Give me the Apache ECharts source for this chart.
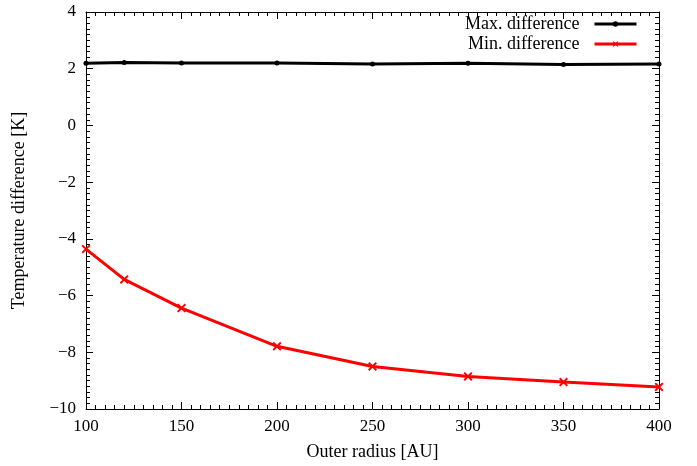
<!DOCTYPE html>
<html>
<head>
<meta charset="utf-8">
<script src="https://cdn.jsdelivr.net/npm/echarts@6/dist/echarts.min.js"></script>
<style>html,body{margin:0;padding:0;background:#fff}#c{width:697px;height:466px}</style>
</head>
<body>
<div id="c"></div>
<script>
var radii = [100, 120, 150, 200, 250, 300, 350, 400];
var maxDiff = [2.19, 2.22, 2.2, 2.2, 2.17, 2.19, 2.15, 2.17];
var minDiff = [-4.36, -5.43, -6.44, -7.79, -8.5, -8.85, -9.05, -9.22];
var seriesNames = ['Max. difference', 'Min. difference'];
var xName = 'Outer radius [AU]';
var yName = 'Temperature difference [K]';

var font = 'Liberation Serif';
var chart = echarts.init(document.getElementById('c'));
var axisLine = {show: true, onZero: false, lineStyle: {color: '#000', width: 1}};
var tick = {show: true, inside: true, length: 7, lineStyle: {color: '#000'}};
var crossPath = 'path://M0,1.5L1.5,0L5,3.5L8.5,0L10,1.5L6.5,5L10,8.5L8.5,10L5,6.5L1.5,10L0,8.5L3.5,5Z';
function minus(v){ return String(v).replace('-', '\u2212'); }
function minorTick(){ return {show: true, splitNumber: 10, length: 4, lineStyle: {color: '#000'}}; }
chart.setOption({
  animation: false,
  grid: {left: 86, right: 38, top: 12, bottom: 56},
  legend: {
    orient: 'vertical', right: 54, top: 10, align: 'right',
    itemWidth: 42, itemHeight: 7, itemGap: 2,
    lineStyle: {width: 3},
    textStyle: {fontFamily: font, fontSize: 18, color: '#000', padding: [0, 10, 0, 0]},
    data: seriesNames
  },
  xAxis: [{
    type: 'value', min: 100, max: 400, interval: 50,
    name: xName, nameLocation: 'middle', nameGap: 34,
    nameTextStyle: {fontFamily: font, fontSize: 18, color: '#000'},
    axisLine: axisLine, axisTick: tick, minorTick: minorTick(),
    splitLine: {show: false},
    axisLabel: {fontFamily: font, fontSize: 17, color: '#000', margin: 9}
  }, {
    type: 'value', position: 'top', min: 100, max: 400, interval: 50,
    axisLine: axisLine, axisTick: tick, minorTick: minorTick(),
    splitLine: {show: false}, axisLabel: {show: false}
  }],
  yAxis: [{
    type: 'value', min: -10, max: 4, interval: 2,
    name: yName, nameLocation: 'middle', nameGap: 58,
    nameTextStyle: {fontFamily: font, fontSize: 18, color: '#000'},
    axisLine: axisLine, axisTick: tick, minorTick: minorTick(),
    splitLine: {show: false},
    axisLabel: {fontFamily: font, fontSize: 17, color: '#000', margin: 10, formatter: minus}
  }, {
    type: 'value', position: 'right', min: -10, max: 4, interval: 2,
    axisLine: axisLine, axisTick: tick, minorTick: minorTick(),
    splitLine: {show: false}, axisLabel: {show: false}
  }],
  series: [{
    name: seriesNames[0], type: 'line',
    data: radii.map(function(r, i){ return [r, maxDiff[i]]; }),
    symbol: 'circle', symbolSize: 5, showAllSymbol: true,
    lineStyle: {color: '#000', width: 3},
    itemStyle: {color: '#000'}
  }, {
    name: seriesNames[1], type: 'line',
    data: radii.map(function(r, i){ return [r, minDiff[i]]; }),
    symbol: crossPath, symbolSize: 9, showAllSymbol: true,
    lineStyle: {color: '#f00', width: 3},
    itemStyle: {color: '#f00'}
  }]
});
</script>
</body>
</html>
